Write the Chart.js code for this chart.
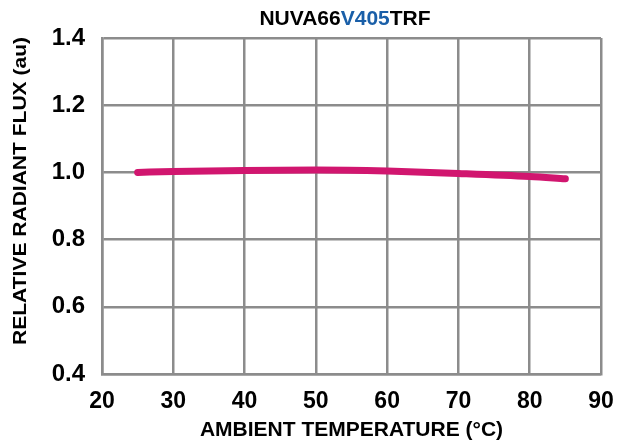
<!DOCTYPE html>
<html>
<head>
<meta charset="utf-8">
<script src="https://cdn.jsdelivr.net/npm/chart.js@4/dist/chart.umd.min.js"></script>
<style>
  html, body { margin: 0; padding: 0; background: #ffffff; }
  #wrap { width: 632px; height: 443px; position: relative; }
</style>
</head>
<body>
<div id="wrap"><canvas id="c" width="632" height="443"></canvas></div>
<script>
const temperatures = [25, 30, 40, 50, 60, 70, 80, 85];
const relativeFlux = [1.000, 1.003, 1.006, 1.007, 1.004, 0.997, 0.988, 0.981];
const xTicks = [20, 30, 40, 50, 60, 70, 80, 90];
const yTicks = [0.4, 0.6, 0.8, 1.0, 1.2, 1.4];
const titleParts = [
  { text: 'NUVA66', color: '#000000' },
  { text: 'V405', color: '#1a5fa8' },
  { text: 'TRF', color: '#000000' }
];
const xTitle = 'AMBIENT TEMPERATURE (°C)';
const yTitle = 'RELATIVE RADIANT FLUX (au)';

const FONT = '"Liberation Sans", Arial, sans-serif';
const GRID = '#8c8c8c';

const textPlugin = {
  id: 'textPlugin',
  afterDraw(chart) {
    const ctx = chart.ctx;
    ctx.save();
    // Title with mixed colours
    ctx.font = 'bold 21px ' + FONT;
    ctx.textBaseline = 'middle';
    ctx.textAlign = 'left';
    const total = titleParts.reduce((s, p) => s + ctx.measureText(p.text).width, 0);
    let x = 345 - total / 2;
    for (const p of titleParts) {
      ctx.fillStyle = p.color;
      ctx.fillText(p.text, x, 19);
      x += ctx.measureText(p.text).width;
    }
    // Y axis title (stretched along its length to match reference extent)
    ctx.font = 'bold 18px ' + FONT;
    ctx.fillStyle = '#000000';
    ctx.textAlign = 'center';
    const w = ctx.measureText(yTitle).width;
    ctx.translate(21, 191);
    ctx.rotate(-Math.PI / 2);
    ctx.scale(308 / w, 1);
    ctx.fillText(yTitle, 0, 0);
    ctx.restore();
  }
};

new Chart(document.getElementById('c'), {
  type: 'line',
  data: {
    datasets: [{
      data: temperatures.map((t, i) => ({ x: t, y: relativeFlux[i] })),
      borderColor: '#d1166f',
      borderWidth: 7,
      borderCapStyle: 'round',
      borderJoinStyle: 'round',
      pointRadius: 0,
      cubicInterpolationMode: 'monotone',
      fill: false
    }]
  },
  options: {
    responsive: false,
    animation: false,
    devicePixelRatio: 1,
    layout: { padding: { left: 0, right: 31, top: 38, bottom: 0 } },
    plugins: { legend: { display: false }, title: { display: false }, tooltip: { enabled: false } },
    scales: {
      x: {
        type: 'linear',
        min: 20, max: 90,
        afterBuildTicks(scale) { scale.ticks = xTicks.map(v => ({ value: v })); },
        afterFit(scale) { scale.height = 69; },
        grid: { color: GRID, lineWidth: 2.5, drawTicks: false },
        border: { color: GRID, width: 2.5 },
        ticks: { color: '#000', padding: 14, maxRotation: 0, font: { family: FONT, size: 23, weight: 'bold' } },
        title: { display: true, text: xTitle, color: '#000', padding: { top: 0, bottom: 0 }, font: { family: FONT, size: 21, weight: 'bold' } }
      },
      y: {
        min: 0.4, max: 1.4,
        afterBuildTicks(scale) { scale.ticks = yTicks.map(v => ({ value: v })); },
        afterFit(scale) { scale.width = 102; },
        grid: { color: GRID, lineWidth: 2.5, drawTicks: false },
        border: { color: GRID, width: 2.5 },
        ticks: { color: '#000', padding: 17, font: { family: FONT, size: 24, weight: 'bold' }, callback: v => v.toFixed(1) }
      }
    }
  },
  plugins: [textPlugin]
});
</script>
</body>
</html>
